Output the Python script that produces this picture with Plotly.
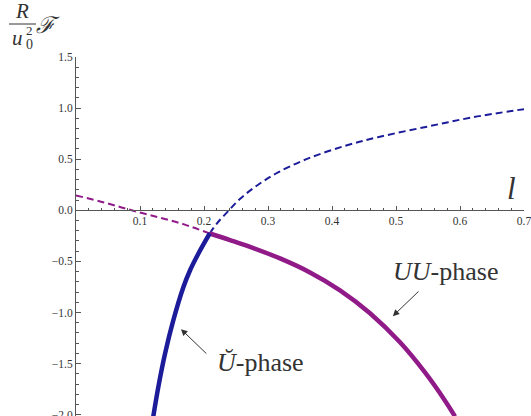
import plotly.graph_objects as go

# curves (l, F*R/u0^2)
blue_solid_l = [0.1208, 0.1286, 0.1391, 0.152, 0.1677, 0.1781, 0.1911, 0.209]
blue_solid_F = [-2.017, -1.730, -1.404, -1.078, -0.753, -0.589, -0.426, -0.227]

blue_dash_l = [0.209, 0.22, 0.239, 0.256, 0.28, 0.3125, 0.36, 0.42, 0.475, 0.55, 0.62, 0.70]
blue_dash_F = [-0.227, -0.13, 0.0, 0.11, 0.23, 0.36, 0.50, 0.63, 0.72, 0.82, 0.91, 0.99]

purple_solid_l = [0.209, 0.2406, 0.2719, 0.3188, 0.3656, 0.4125, 0.4594, 0.5063, 0.5453, 0.5766, 0.5922]
purple_solid_F = [-0.227, -0.291, -0.358, -0.471, -0.608, -0.783, -1.007, -1.292, -1.587, -1.863, -2.017]

purple_dash_l = [0.0, 0.045, 0.087, 0.13, 0.17, 0.209]
purple_dash_F = [0.145, 0.075, 0.0, -0.07, -0.14, -0.227]

x_ticks = [0.1, 0.2, 0.3, 0.4, 0.5, 0.6, 0.7]
y_ticks = [-2.0, -1.5, -1.0, -0.5, 0.0, 0.5, 1.0, 1.5]

BLUE = "#1c1c9a"
PURPLE = "#911a89"
AXIS = "#555555"
TXT = "#333333"
SERIF = "Times New Roman, Liberation Serif, serif"

W, H = 531, 416
L, R, T, B = 76, 7, 57, 0
ymin, ymax = -2.013, 1.5


def px(x):
    return (x - L) / (W - L - R)


def py(y):
    return (H - B - y) / (H - T - B)


fig = go.Figure()
fig.add_trace(go.Scatter(x=purple_dash_l, y=purple_dash_F, mode="lines", line_shape="spline",
                         line=dict(color=PURPLE, width=2, dash="7px,4px")))
fig.add_trace(go.Scatter(x=blue_dash_l, y=blue_dash_F, mode="lines", line_shape="spline",
                         line=dict(color=BLUE, width=2, dash="7px,4px")))
fig.add_trace(go.Scatter(x=purple_solid_l, y=purple_solid_F, mode="lines", line_shape="spline",
                         line=dict(color=PURPLE, width=4.5)))
fig.add_trace(go.Scatter(x=blue_solid_l, y=blue_solid_F, mode="lines", line_shape="spline",
                         line=dict(color=BLUE, width=4.5)))


def label(x, y, text, size, ref="paper"):
    if ref == "paper":
        x, y = px(x), py(y)
    return dict(x=x, y=y, xref=ref if ref == "paper" else "x", yref=ref if ref == "paper" else "y",
                text=text, showarrow=False, xanchor="center", yanchor="middle",
                font=dict(family=SERIF, size=size, color=TXT))


annotations = [
    # arrows
    dict(x=0.495, y=-1.036, ax=0.5375, ay=-0.78, xref="x", yref="y", axref="x", ayref="y",
         text="", showarrow=True, arrowhead=2, arrowsize=1.3, arrowwidth=1, arrowcolor=TXT),
    dict(x=0.164, y=-1.163, ax=0.206, ay=-1.416, xref="x", yref="y", axref="x", ayref="y",
         text="", showarrow=True, arrowhead=2, arrowsize=1.3, arrowwidth=1, arrowcolor=TXT),
    # phase labels
    label(0.578, -0.597, "<i>UU</i>-phase", 26, ref="data"),
    label(0.289, -1.486, "<i>Ŭ</i>-phase", 26, ref="data"),
    # axis label l
    label(0.681, 0.21, "<i>l</i>", 31, ref="data"),
    # y label  R / u0^2 F
    label(22, 11, "<i>R</i>", 21),
    label(17, 38, "<i>u</i>", 21),
    label(29, 30, "2", 13),
    label(29, 44, "0", 14),
    label(48, 26, "<i>ℱ</i>", 23),
]

shapes = [dict(type="line", xref="paper", yref="paper", x0=px(9), x1=px(36), y0=py(24), y1=py(24),
               line=dict(color=TXT, width=1))]

fig.update_layout(
    width=W, height=H,
    margin=dict(l=L, r=R, t=T, b=B, pad=0),
    paper_bgcolor="white", plot_bgcolor="white",
    showlegend=False,
    annotations=annotations,
    shapes=shapes,
    xaxis=dict(range=[0, 0.7], anchor="free", position=(0 - ymin) / (ymax - ymin),
               automargin=False,
               showgrid=False, zeroline=False, showline=True, linecolor=AXIS, linewidth=1,
               tickmode="array", tickvals=x_ticks, ticktext=[f"{v:.1f}" for v in x_ticks],
               ticks="inside", ticklen=4, tickcolor=AXIS, ticklabeloverflow="allow",
               tickfont=dict(family=SERIF, size=11.5, color=TXT),
               minor=dict(tickmode="linear", tick0=0, dtick=0.02, ticks="inside", ticklen=2.5,
                          tickcolor=AXIS)),
    yaxis=dict(range=[ymin, ymax], automargin=False,
               showgrid=False, zeroline=False, showline=True,
               linecolor=AXIS, linewidth=1,
               tickmode="array", tickvals=y_ticks,
               ticktext=[f"{v:.1f}".replace("-", "\u2212") for v in y_ticks],
               ticks="inside", ticklen=5, tickcolor=AXIS, ticklabeloverflow="allow",
               tickfont=dict(family=SERIF, size=11.5, color=TXT),
               minor=dict(tickmode="linear", tick0=0, dtick=0.1, ticks="inside", ticklen=3,
                          tickcolor=AXIS)),
)

# the page's default body margin would shift the plot by 8px
fig.write_html("out.html", config={"displayModeBar": False},
               post_script="document.body.style.margin='0';")
